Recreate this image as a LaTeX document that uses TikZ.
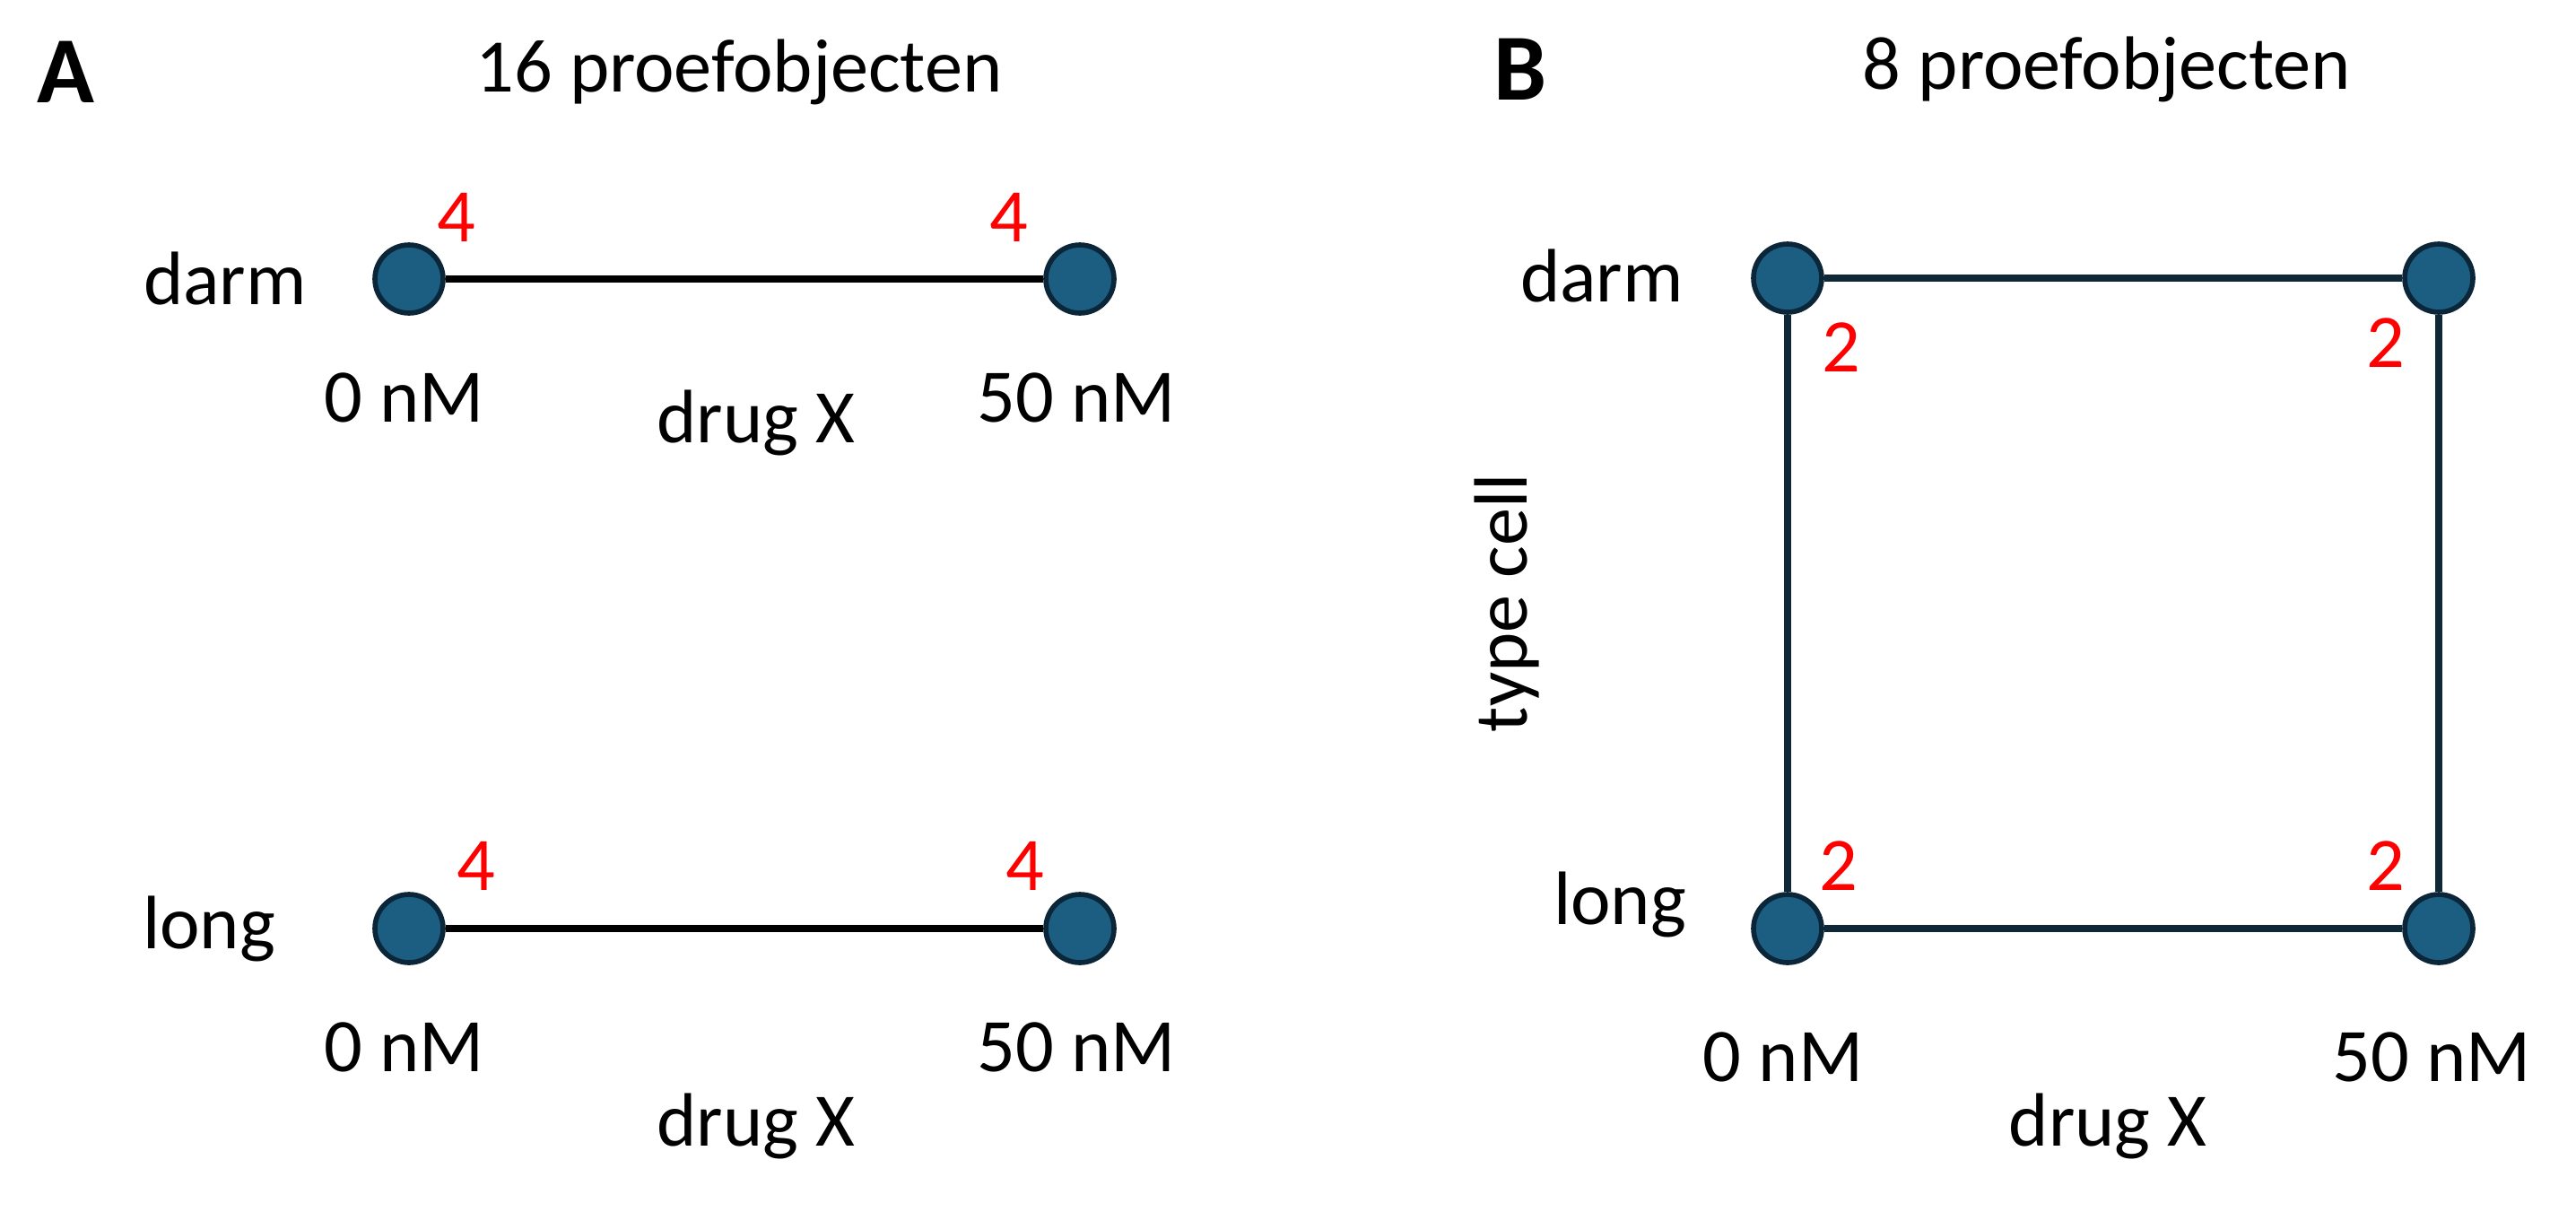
\documentclass[tikz,border=0pt]{standalone}
\usepackage{fontspec}
\setmainfont{Carlito}
\definecolor{dotfill}{RGB}{27,94,130}
\definecolor{dotline}{RGB}{11,38,56}
\definecolor{navy}{RGB}{14,40,56}
\tikzset{dot/.style={circle,minimum size=0.76cm,inner sep=0pt,fill=dotfill,draw=dotline,line width=1.6pt},
  lbl/.style={font=\fontsize{24}{28}\selectfont},
  cnt/.style={font=\fontsize{24}{28}\selectfont,text=red},
  hdr/.style={font=\fontsize{30}{34}\selectfont\bfseries}}

\begin{document}
\begin{tikzpicture}
            \useasboundingbox (0,0) rectangle (28.72,-13.51);
            % panel A
            \node[hdr] (hA) at (0.73,-0.80) {A};
            \node[lbl] (tA) at (8.24,-0.80) {16 proefobjecten};
            \node[dot] (A1) at (4.56,-3.11) {};
            \node[dot] (A2) at (12.04,-3.11) {};
            \node[dot] (A3) at (4.56,-10.35) {};
            \node[dot] (A4) at (12.04,-10.35) {};
            \draw[line width=2.2pt] (A1) -- (A2);
            \draw[line width=2.2pt] (A3) -- (A4);
            \node[lbl] (dA) at (2.51,-3.11) {darm};
            \node[lbl] (lA) at (2.33,-10.35) {long};
            \node[cnt] (cA1) at (5.09,-2.42) {4};
            \node[cnt] (cA2) at (11.25,-2.42) {4};
            \node[cnt] (cA3) at (5.31,-9.65) {4};
            \node[cnt] (cA4) at (11.43,-9.65) {4};
            \node[lbl] (zA1) at (4.51,-4.43) {0 nM};
            \node[lbl] (fA1) at (12.00,-4.43) {50 nM};
            \node[lbl] (xA1) at (8.43,-4.71) {drug X};
            \node[lbl] (zA2) at (4.51,-11.67) {0 nM};
            \node[lbl] (fA2) at (12.00,-11.67) {50 nM};
            \node[lbl] (xA2) at (8.43,-12.55) {drug X};
            % panel B
            \node[hdr] (hB) at (16.95,-0.77) {B};
            \node[lbl] (tB) at (23.49,-0.77) {8 proefobjecten};
            \node[dot] (B1) at (19.93,-3.10) {};
            \node[dot] (B2) at (27.19,-3.10) {};
            \node[dot] (B3) at (19.93,-10.35) {};
            \node[dot] (B4) at (27.19,-10.35) {};
            \draw[navy,line width=2.2pt] (B1) -- (B2) -- (B4) -- (B3) -- (B1);
            \node[lbl] (dB) at (17.86,-3.08) {darm};
            \node[lbl] (lB) at (18.06,-10.08) {long};
            \node[lbl,rotate=90] (yB) at (16.80,-6.72) {type cell};
            \node[cnt] (cB1) at (20.53,-3.87) {2};
            \node[cnt] (cB2) at (26.60,-3.82) {2};
            \node[cnt] (cB3) at (20.50,-9.65) {2};
            \node[cnt] (cB4) at (26.60,-9.65) {2};
            \node[lbl] (zB) at (19.88,-11.78) {0 nM};
            \node[lbl] (fB) at (27.11,-11.78) {50 nM};
            \node[lbl] (xB) at (23.50,-12.55) {drug X};
        \end{tikzpicture}
\end{document}
